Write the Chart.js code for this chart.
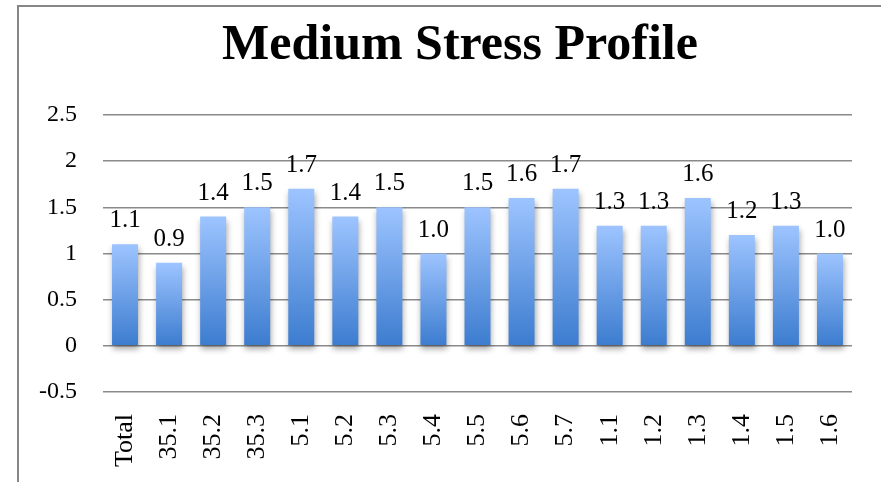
<!DOCTYPE html>
<html>
<head>
<meta charset="utf-8">
<title>Medium Stress Profile</title>
<script src="https://cdn.jsdelivr.net/npm/chart.js@4.4.1/dist/chart.umd.min.js"></script>
<style>
  html, body { margin: 0; padding: 0; background: #fff; }
  #frame {
    position: absolute; left: 17px; top: 5px;
    width: 862px; height: 475px;
    border-top: 2px solid #878787; border-left: 2px solid #878787;
  }
  canvas { display: block; }
</style>
</head>
<body>
<div id="frame"><canvas id="bar-chartcanvas" width="862" height="475"></canvas></div>
<script>
var categories = ["Total","35.1","35.2","35.3","5.1","5.2","5.3","5.4","5.5","5.6","5.7","1.1","1.2","1.3","1.4","1.5","1.6"];
var stressValues = [1.1, 0.9, 1.4, 1.5, 1.7, 1.4, 1.5, 1.0, 1.5, 1.6, 1.7, 1.3, 1.3, 1.6, 1.2, 1.3, 1.0];
var yTicks = [-0.5, 0, 0.5, 1, 1.5, 2, 2.5];

var serif = "'Liberation Serif', 'Times New Roman', serif";

// gradient per bar, light at the top, darker at the base
function barFill(c) {
	var chart = c.chart;
	if (!chart.chartArea || c.raw === undefined) return "#6a9fe5";
	var y = chart.scales.y;
	var g = chart.ctx.createLinearGradient(0, y.getPixelForValue(c.raw), 0, y.getPixelForValue(0));
	g.addColorStop(0, "#9dc4ff");
	g.addColorStop(1, "#3c7ccf");
	return g;
}

var barShadow = {
	id: "barShadow",
	beforeDatasetDraw: function(chart) {
		var ctx = chart.ctx;
		ctx.save();
		ctx.shadowColor = "rgba(0,0,0,0.35)";
		ctx.shadowBlur = 6;
		ctx.shadowOffsetX = 1;
		ctx.shadowOffsetY = 4;
	},
	afterDatasetDraw: function(chart) {
		chart.ctx.restore();
	}
};

// the left padding only serves to centre the title; let the y labels use it
var unclipY = {
	id: "unclipY",
	afterLayout: function(chart) {
		chart.scales.y.left = 0;
	}
};

var valueLabels = {
	id: "valueLabels",
	afterDatasetsDraw: function(chart) {
		var ctx = chart.ctx;
		var meta = chart.getDatasetMeta(0);
		ctx.save();
		ctx.font = "25px " + serif;
		ctx.fillStyle = "#000";
		ctx.textAlign = "center";
		ctx.textBaseline = "alphabetic";
		meta.data.forEach(function(bar, i) {
			ctx.fillText(stressValues[i].toFixed(1), bar.x, bar.y - 17);
		});
		ctx.restore();
	}
};

var ctx = document.getElementById("bar-chartcanvas");

var chart = new Chart(ctx, {
	type: "bar",
	data: {
		labels: categories,
		datasets: [{
			label: "Medium Stress",
			data: stressValues,
			backgroundColor: barFill,
			borderWidth: 0,
			barPercentage: 0.59,
			categoryPercentage: 1
		}]
	},
	options: {
		responsive: false,
		animation: false,
		layout: { padding: { left: 49, right: 29, top: 0, bottom: 0 } },
		plugins: {
			legend: { display: false },
			tooltip: { enabled: false },
			title: {
				display: true,
				text: "Medium Stress Profile",
				color: "#000",
				font: { family: serif, size: 50, weight: "bold", lineHeight: 1.2 },
				padding: { top: 9, bottom: 39 }
			}
		},
		scales: {
			x: {
				grid: { display: false },
				border: { display: false },
				ticks: {
					color: "#000",
					font: { family: serif, size: 26 },
					minRotation: 90,
					maxRotation: 90,
					padding: 14,
					autoSkip: false
				},
				afterFit: function(scale) { scale.height = 90; }
			},
			y: {
				min: -0.5,
				max: 2.5,
				afterBuildTicks: function(scale) {
					scale.ticks = yTicks.map(function(v) { return { value: v }; });
				},
				grid: { color: "#8a8a8a", lineWidth: 1.5, drawTicks: false },
				border: { display: false },
				ticks: {
					color: "#000",
					font: { family: serif, size: 24 },
					padding: 26,
					callback: function(v) { return String(v); }
				},
				afterFit: function(scale) { scale.width = 35; }
			}
		}
	},
	plugins: [barShadow, unclipY, valueLabels]
});
</script>
</body>
</html>
